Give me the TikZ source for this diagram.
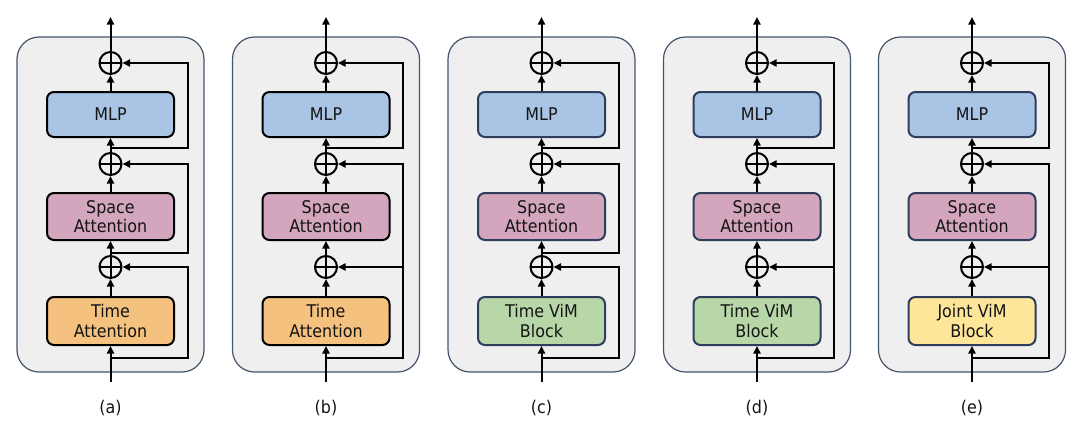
\documentclass[tikz,border=0pt]{standalone}
\usepackage{fontspec}
\setmainfont{DejaVu Sans}[FakeStretch=0.91]
\usetikzlibrary{arrows.meta,calc}
\definecolor{outerfill}{HTML}{EFEFEF}
\definecolor{outerdraw}{HTML}{44546A}
\definecolor{mlpblue}{HTML}{A9C4E5}
\definecolor{sapink}{HTML}{D4A6BD}
\definecolor{taorange}{HTML}{F4C17F}
\definecolor{vimgreen}{HTML}{B7D7A8}
\definecolor{jointyellow}{HTML}{FDE59A}
\definecolor{slateborder}{HTML}{2E3D5C}
\definecolor{txt}{HTML}{141414}
\tikzset{
  outerbox/.style={draw=outerdraw, fill=outerfill, line width=1.2pt, rounded corners=22pt,
    minimum width=187pt, minimum height=335pt, inner sep=0pt},
  blk/.style={rounded corners=7pt, line width=2pt, minimum width=127pt, inner sep=0pt,
    align=center, text=txt, font=\fontsize{17.5}{19.5}\selectfont},
  plusnode/.style={circle, draw=black, line width=2pt, minimum size=22pt, inner sep=0pt,
    path picture={\draw[line width=2pt] (path picture bounding box.north) -- (path picture bounding box.south)
      (path picture bounding box.west) -- (path picture bounding box.east);}},
  arr/.style={line width=2pt, -{Triangle[length=7.5pt,width=7pt]}},
  lbl/.style={text=txt, font=\fontsize{17.5}{19.5}\selectfont}
}
% #1 id, #2 centre x, #3 bottom text, #4 bottom fill, #5 border colour, #6 shared skip (1) or not (0)
\newcommand{\mkpanel}[6]{
  \node[outerbox] (o#1) at (#2,204.5) {};
  \node[blk, fill=mlpblue, draw=#5, minimum height=45pt] (m#1) at (#2,114.5) {MLP};
  \node[blk, fill=sapink, draw=#5, minimum height=47pt] (s#1) at (#2,216.5) {Space\\Attention};
  \node[blk, fill=#4, draw=#5, minimum height=48pt] (t#1) at (#2,321) {#3};
  \node[plusnode] (pa#1) at (#2,63) {};
  \node[plusnode] (pb#1) at (#2,164) {};
  \node[plusnode] (pc#1) at (#2,267) {};
  \coordinate (out#1) at (#2,17);
  \coordinate (in#1) at (#2,382);
  \coordinate (ta#1) at (#2,148);
  \coordinate (tb#1) at (#2,253);
  \coordinate (tc#1) at (#2,358);
  \coordinate (ra#1) at ($(#2,63)+(77,0)$);
  \coordinate (rb#1) at ($(#2,164)+(77,0)$);
  \coordinate (rc#1) at ($(#2,267)+(77,0)$);
  \draw[arr] (in#1) -- (t#1);
  \draw[arr] (t#1) -- (pc#1);
  \draw[arr] (pc#1) -- (s#1);
  \draw[arr] (s#1) -- (pb#1);
  \draw[arr] (pb#1) -- (m#1);
  \draw[arr] (m#1) -- (pa#1);
  \draw[arr] (pa#1) -- (out#1);
  \draw[arr] (ta#1) -| (ra#1) -- (pa#1);
  \ifnum#6=1
    \draw[arr] (tc#1) -| (rb#1) -- (pb#1);
    \draw[arr] (rc#1) -- (pc#1);
  \else
    \draw[arr] (tb#1) -| (rb#1) -- (pb#1);
    \draw[arr] (tc#1) -| (rc#1) -- (pc#1);
  \fi
  \node[lbl] (l#1) at (#2,408) {(#1)};
}
\begin{document}
\begin{tikzpicture}[x=1pt, y=-1pt]
\useasboundingbox (0,0) rectangle (1080,432);
\mkpanel{a}{110.5}{Time\\Attention}{taorange}{black}{0}
\mkpanel{b}{326}{Time\\Attention}{taorange}{black}{1}
\mkpanel{c}{541.5}{Time ViM\\Block}{vimgreen}{slateborder}{0}
\mkpanel{d}{757}{Time ViM\\Block}{vimgreen}{slateborder}{1}
\mkpanel{e}{972}{Joint ViM\\Block}{jointyellow}{slateborder}{1}
\end{tikzpicture}
\end{document}
